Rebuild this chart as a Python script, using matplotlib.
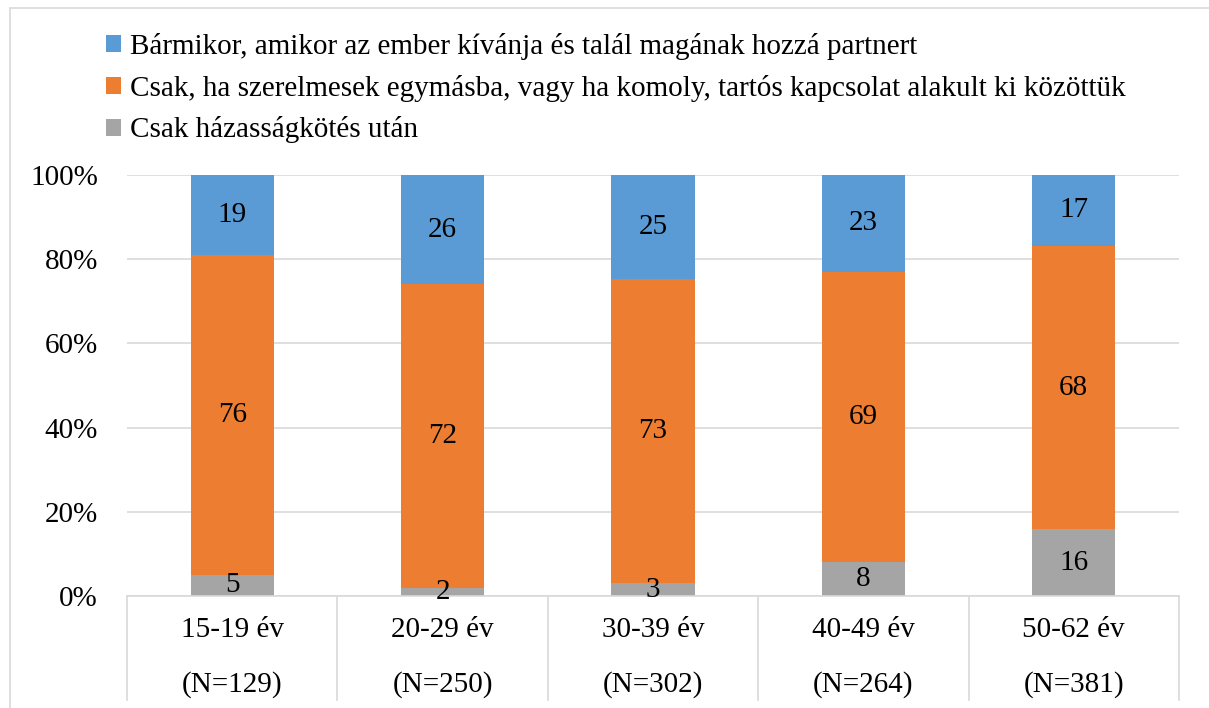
import matplotlib.pyplot as plt
from matplotlib.patches import Rectangle
import numpy as np

plt.rcParams['font.family'] = ['Liberation Serif', 'DejaVu Serif']

# adatok
kategoriak = ['15-19 év', '20-29 év', '30-39 év', '40-49 év', '50-62 év']
n_cimkek = ['(N=129)', '(N=250)', '(N=302)', '(N=264)', '(N=381)']
hazassag = [5, 2, 3, 8, 16]
szerelem = [76, 72, 73, 69, 68]
barmikor = [19, 26, 25, 23, 17]
sorozat_nevek = ['Bármikor, amikor az ember kívánja és talál magának hozzá partnert',
                 'Csak, ha szerelmesek egymásba, vagy ha komoly, tartós kapcsolat alakult ki közöttük',
                 'Csak házasságkötés után']
szinek = ['#5B9BD5', '#ED7D31', '#A5A5A5']

fs = 21
fig = plt.figure(figsize=(12.09, 7.08), dpi=100)
ax = fig.add_axes([127/1209, 112/708, (1179-127)/1209, 421/708])

# keret a diagram körül
fig.patches.append(Rectangle((10/1209, -0.5), 1.2, 1.5 - 8/708, transform=fig.transFigure,
                             fill=False, edgecolor='#D9D9D9', lw=1.2, clip_on=False))

x = np.arange(len(kategoriak))
osszeg = np.array(hazassag) + np.array(szerelem) + np.array(barmikor)
also = np.zeros(len(x))
handles = {}
for nev, ertek, szin in [(sorozat_nevek[2], hazassag, szinek[2]),
                         (sorozat_nevek[1], szerelem, szinek[1]),
                         (sorozat_nevek[0], barmikor, szinek[0])]:
    arany = np.array(ertek) / osszeg
    b = ax.bar(x, arany, bottom=also, width=0.395, color=szin, label=nev, zorder=2)
    handles[nev] = b
    for xi, a, al, v in zip(x, arany, also, ertek):  # értékek a szegmensek közepén
        ax.text(xi, al + a / 2, str(v), ha='center', va='center', fontsize=fs, zorder=3)
    also = also + arany

ax.set_xlim(-0.5, len(x) - 0.5)
ax.set_ylim(0, 1)
ax.set_yticks(np.arange(0, 1.01, 0.2))
ax.set_yticklabels(['%d%%' % (v * 100) for v in np.arange(0, 1.01, 0.2)], fontsize=fs)
ax.tick_params(axis='y', length=0, pad=21)
ax.set_xticks([])
ax.grid(axis='y', color='#D9D9D9', lw=1.2, zorder=0)
for s in ['top', 'right', 'left']:
    ax.spines[s].set_visible(False)
ax.spines['bottom'].set_color('#D9D9D9')
ax.spines['bottom'].set_linewidth(1.2)

# kategória-címkék táblázatszerűen
for xi, k, n in zip(x, kategoriak, n_cimkek):
    ax.text(xi, -34/421, k, ha='center', va='center', fontsize=fs, transform=ax.get_xaxis_transform())
    ax.text(xi, -89/421, n, ha='center', va='center', fontsize=fs, transform=ax.get_xaxis_transform())
for h in np.arange(-0.5, len(x), 1):
    ax.plot([h, h], [0, -104/421], color='#D9D9D9', lw=1.2, clip_on=False,
            transform=ax.get_xaxis_transform())

fig.legend([handles[n] for n in sorozat_nevek], sorozat_nevek, loc='upper left',
           bbox_to_anchor=(80/1209, 1 - 7/708), frameon=False, fontsize=fs,
           handlelength=0.52, handleheight=0.52, handletextpad=0.3, labelspacing=0.5)

plt.savefig('out.png', dpi=100)
